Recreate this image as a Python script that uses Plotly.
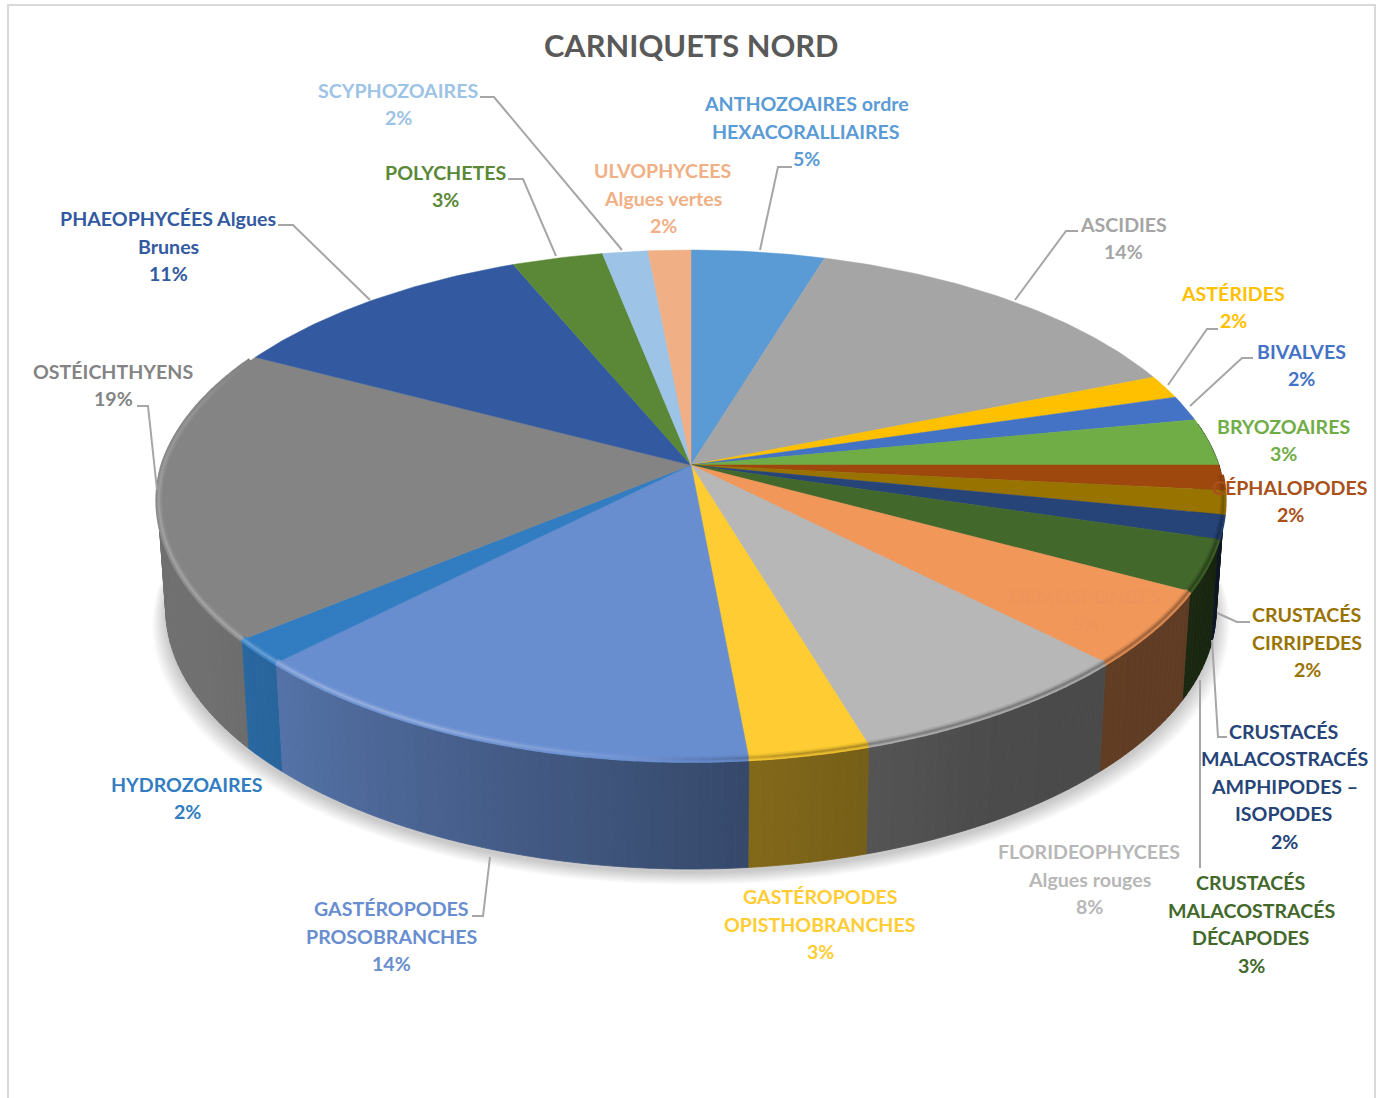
import numpy as np
import plotly.graph_objects as go

TITLE = "CARNIQUETS NORD"
CATEGORIES = ["ANTHOZOAIRES ordre<br>HEXACORALLIAIRES", "ASCIDIES", "ASTÉRIDES", "BIVALVES", "BRYOZOAIRES",
              "CÉPHALOPODES", "CRUSTACÉS<br>CIRRIPEDES", "CRUSTACÉS<br>MALACOSTRACÉS<br>AMPHIPODES –<br>ISOPODES",
              "CRUSTACÉS<br>MALACOSTRACÉS<br>DÉCAPODES", "DEMOSPONGES", "FLORIDEOPHYCEES<br>Algues rouges",
              "GASTÉROPODES<br>OPISTHOBRANCHES", "GASTÉROPODES<br>PROSOBRANCHES", "HYDROZOAIRES", "OSTÉICHTHYENS",
              "PHAEOPHYCÉES Algues<br>Brunes", "POLYCHETES", "SCYPHOZOAIRES", "ULVOPHYCEES<br>Algues vertes"]
VALUES = [4.7, 14.2, 1.5, 1.6, 3.0, 1.6, 1.5, 1.5, 3.2, 4.7, 7.8, 3.2, 14.0, 1.6, 18.6, 11.0, 3.2, 1.6, 1.5]
PERCENT_LABELS = ["5%", "14%", "2%", "2%", "3%", "2%", "2%", "2%", "3%", "5%", "8%", "3%", "14%", "2%", "19%",
                  "11%", "3%", "2%", "2%"]
COLORS = ["#5B9BD5", "#A5A5A5", "#FFC000", "#4472C4", "#70AD47", "#9E480E", "#997300", "#264478", "#43682B",
          "#F1975A", "#B7B7B7", "#FFCD33", "#698ED0", "#327DC2", "#848484", "#335AA1", "#5A8837", "#9DC3E6",
          "#F1AF85"]
TEXT_COLORS = list(COLORS)
TEXT_COLORS[5] = "#A9501A"
TEXT_COLORS[9] = "#EF945A"
LABEL_POS = [(806, 131), (1123, 238), (1233, 307), (1301, 365), (1283, 440), (1290, 501), (1307, 642), (1284, 786),
             (1251, 924), (1085, 610), (1089, 879), (820, 924), (391, 936), (187, 798), (113, 385), (168, 246),
             (445, 186), (398, 104), (663, 198)]
LEADERS = [[(792, 167), (778, 167), (760, 250)], [(1078, 231), (1066, 231), (1015, 300)],
           [(1218, 329), (1207, 329), (1168, 385)], [(1253, 358), (1242, 358), (1190, 406)],
           [(1250, 622), (1237, 622), (1217, 613)], [(1227, 737), (1218, 737), (1212, 640)],
           [(1200, 680), (1200, 868)], [(490, 857), (483, 916), (472, 916)], [(137, 406), (148, 406), (157, 490)],
           [(278, 225), (293, 225), (370, 300)], [(508, 179), (523, 179), (556, 256)],
           [(480, 97), (494, 97), (622, 250)]]

# Pie disc projection (a tilted disc seen in perspective)
CX, CY, A, B, K = 691.0, 465.0, 528.0, 248.7, 0.157
DEPTH, BOTTOM_SCALE = 109.0, 0.985
LINE_H = 27.5


def top(theta, r=1.0):
    u, v = r * np.sin(theta), r * np.cos(theta)
    w = 1 + K * v
    pinch = 1 - 0.018 * np.maximum(-v, 0)
    return CX + A * u / w * pinch, CY - B * v / w


def bottom(theta, r=1.0):
    x, y = top(theta, r)
    return CX + (x - CX) * BOTTOM_SCALE, y + DEPTH


def rgb(h):
    return np.array([int(h[i:i + 2], 16) for i in (1, 3, 5)], float)


def css(c):
    c = np.clip(c, 0, 255)
    return f"rgb({c[0]:.0f},{c[1]:.0f},{c[2]:.0f})"


def wall_shade(deg):
    return np.interp(deg, [85, 100, 120, 130, 150, 170, 178, 226, 240, 300],
                     [.28, .30, .40, .40, .41, .49, .53, .81, .85, .85])


fig = go.Figure()


def poly(x, y, color, width=0.6):
    fig.add_trace(go.Scatter(x=x, y=y, mode="lines", fill="toself", fillcolor=color,
                             line=dict(color=color, width=width), hoverinfo="skip", showlegend=False))


# soft shadow below the disc
full = np.linspace(0, 2 * np.pi, 240)
x0, y0 = bottom(full)
for i in range(18):
    s = 1 + 0.026 * (1 - i / 17)
    off = 4 + 12 * (1 - i / 17)
    poly(CX + (x0 - CX) * s, y0 + off, "rgba(90,90,90,0.02)", width=0)

edges = np.concatenate([[0], np.cumsum(VALUES)]) / sum(VALUES) * 2 * np.pi

# side wall
STEP = np.radians(1.2)
segments = []
for i, c in enumerate(COLORS):
    n = max(2, int(np.ceil((edges[i + 1] - edges[i]) / STEP)))
    th = np.linspace(edges[i], edges[i + 1], n + 1)
    for a, b in zip(th[:-1], th[1:]):
        mid = np.degrees((a + b) / 2)
        if 80 <= mid <= 297:
            segments.append((a, b, mid, c))
segments.sort(key=lambda s: -np.cos(s[2] * np.pi / 180))
for a, b, mid, c in segments:
    t = np.array([a, b])
    xt, yt = top(t)
    xb, yb = bottom(t)
    col = css(rgb(c) * wall_shade(mid))
    poly(np.r_[xt, xb[::-1], xt[0]], np.r_[yt, yb[::-1], yt[0]], col, width=0.8)

# top faces
for i, c in enumerate(COLORS):
    t = np.linspace(edges[i], edges[i + 1], max(3, int((edges[i + 1] - edges[i]) / np.radians(0.8))))
    x, y = top(t)
    poly(np.r_[CX, x, CX], np.r_[CY, y, CY], c, width=0.5)

# bevel along the rim: soft layers, no visible inner line
for r, w, amt in [(0.998, 7, 0.22), (0.998, 4, 0.5), (0.998, 2, 0.9)]:
    for a, b, mid, c in segments:
        if mid < 92:
            continue
        t = np.array([a, b + 0.002])
        base = rgb(c)
        dark = np.interp(mid, [92, 110, 170, 186], [0.3, 1, 1, 0]) * amt * 0.6
        lift = np.interp(mid, [180, 205, 260, 285, 297], [0, .30, .24, .12, 0]) * amt
        col = base * (1 - dark) + base * wall_shade(mid) * dark
        col = col + (255 - col) * lift
        x, y = top(t, r)
        fig.add_trace(go.Scatter(x=x, y=y, mode="lines", line=dict(color=css(col), width=w),
                                 hoverinfo="skip", showlegend=False))

shapes = [dict(type="path", layer="above",
               path="M" + " L".join(f"{x},{y}" for x, y in pts),
               line=dict(color="#A6A6A6", width=2)) for pts in LEADERS]
# page frame
shapes.append(dict(type="path", layer="below",
                   path="M" + " L".join(f"{x},{y}" for x, y in [(8, 1098), (8, 5), (1375, 5), (1375, 1098)]),
                   line=dict(color="#D9D9D9", width=2)))

annotations = [dict(x=691, y=45, text=f"<b>{TITLE}</b>", showarrow=False, xanchor="center", yanchor="middle",
                    font=dict(family="Lato", size=30.8, color="#595959"))]
for name, pct, pos, col in zip(CATEGORIES, PERCENT_LABELS, LABEL_POS, TEXT_COLORS):
    rows = name.split("<br>") + [pct]
    for j, row in enumerate(rows):
        annotations.append(dict(x=pos[0], y=pos[1] + (j - (len(rows) - 1) / 2) * LINE_H, text=f"<b>{row}</b>",
                                showarrow=False, xanchor="center", yanchor="middle", align="center",
                                font=dict(family="Lato", size=19.6, color=col)))

fig.update_layout(width=1384, height=1098, margin=dict(l=0, r=0, t=0, b=0), paper_bgcolor="white",
                  plot_bgcolor="white", showlegend=False, shapes=shapes, annotations=annotations,
                  xaxis=dict(range=[0, 1384], visible=False, fixedrange=True),
                  yaxis=dict(range=[1098, 0], visible=False, fixedrange=True))
fig.write_html("out.html", config=dict(displayModeBar=False),
               post_script="document.body.style.margin='0';document.body.style.overflow='hidden';")
